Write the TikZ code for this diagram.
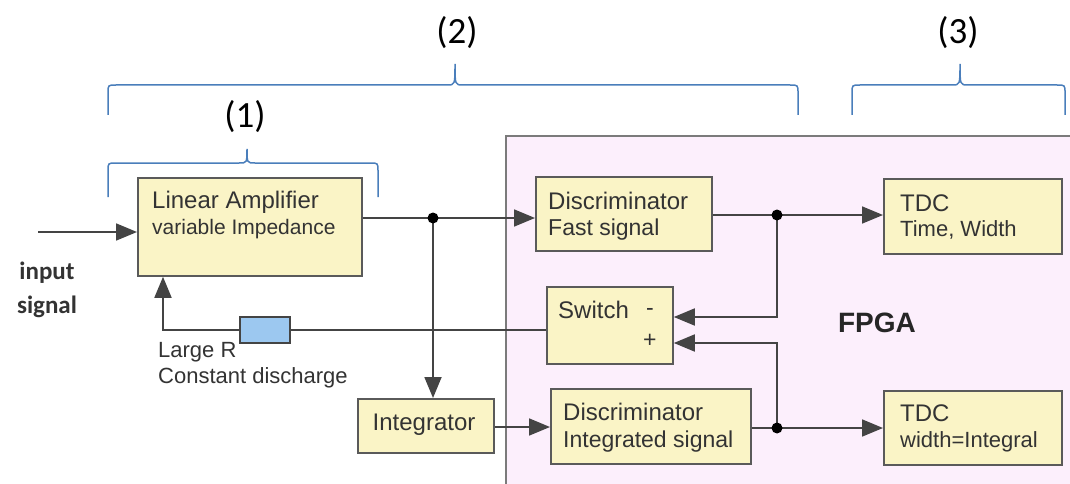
\documentclass[tikz,border=0pt]{standalone}
\usepackage{fontspec}
\setmainfont{Liberation Sans}
\newfontfamily\calib{Carlito}
\usetikzlibrary{arrows.meta}
\definecolor{boxfill}{HTML}{FAF4C6}
\definecolor{boxline}{HTML}{5A5A5A}
\definecolor{fpgafill}{HTML}{FCEFFC}
\definecolor{resfill}{HTML}{9CC8F0}
\definecolor{bracecol}{HTML}{4A7EBB}
\definecolor{txt}{HTML}{333333}
\definecolor{wire}{HTML}{444444}
\tikzset{
  blk/.style={draw=boxline, fill=boxfill, line width=1.8pt, anchor=north west, inner sep=0pt},
  tl/.style={anchor=west, inner sep=0pt, text=txt, font=\fontsize{23}{25}\selectfont},
  tlb/.style={anchor=west, inner sep=0pt, text=txt, font=\fontsize{24}{26}\selectfont},
  wr/.style={draw=wire, line width=1.8pt},
  arr/.style={wr, -{Triangle[length=21pt,width=17pt]}},
  dotc/.style={circle, fill=black, inner sep=0pt, minimum size=11pt},
  brc/.style={draw=bracecol, line width=1.5pt},
  lab/.style={font=\calib\fontsize{37}{39}\selectfont, text=black, inner sep=0pt}
}
\newcommand\mybrace[6]{%
  \draw[brc] (#1,#5) -- (#1,#4+8) .. controls (#1,#4) .. (#1+8,#4) -- (#3-8,#4)
    .. controls (#3,#4) .. (#3,#6) .. controls (#3,#4) .. (#3+8,#4) -- (#2-8,#4)
    .. controls (#2,#4) .. (#2,#4+8) -- (#2,#5);}
\begin{document}
\begin{tikzpicture}[x=1pt,y=-1pt]
\useasboundingbox (0,0) rectangle (1070,484);
\clip (0,0) rectangle (1070,484);
\fill[white] (0,0) rectangle (1070,484);
% FPGA region
\node[draw=boxline!80, fill=fpgafill, line width=1.8pt, anchor=north west, inner sep=0pt,
  minimum width=600pt, minimum height=400pt] (fpga) at (505,135) {};
\node[font=\bfseries\fontsize{28}{30}\selectfont, text=black!85] (fpgat) at (877,323) {FPGA};
% braces
\mybrace{108}{378}{247}{163}{197}{149}
\mybrace{108}{798}{455}{85}{115}{64}
\mybrace{852}{1065}{960}{85}{115}{64}
\node[lab] (l1) at (245,117) {(1)};
\node[lab] (l2) at (457,33) {(2)};
\node[lab] (l3) at (958,33) {(3)};
% blocks
\node[blk, minimum width=224pt, minimum height=98pt] (amp) at (137,177) {};
\node[tlb] (ampt1) at (152,202) {Linear Amplifier};
\node[tl, font=\fontsize{21}{23}\selectfont] (ampt2) at (152,229) {variable Impedance};
\node[blk, minimum width=176pt, minimum height=74pt] (dfast) at (535,176) {};
\node[tlb] (dft1) at (548,201) {Discriminator};
\node[tl] (dft2) at (548,230) {Fast signal};
\node[blk, minimum width=126pt, minimum height=77pt] (sw) at (546,286) {};
\node[tlb] (swt) at (558,310) {Switch};
\node[tl] (swm) at (646,312) {-};
\node[tl] (swp) at (643,341) {+};
\node[blk, minimum width=136pt, minimum height=54pt] (integ) at (357,398) {};
\node[tlb, anchor=center] (integt) at (424,425) {Integrator};
\node[blk, minimum width=200pt, minimum height=75pt] (dint) at (550,388) {};
\node[tlb] (dit1) at (563,412) {Discriminator};
\node[tl] (dit2) at (563,442) {Integrated signal};
\node[blk, minimum width=178pt, minimum height=75pt] (tdc1) at (883,178) {};
\node[tlb] (t1a) at (900,203) {TDC};
\node[tl, font=\fontsize{22}{24}\selectfont] (t1b) at (900,230) {Time, Width};
\node[blk, minimum width=178pt, minimum height=74pt] (tdc2) at (883,390) {};
\node[tlb] (t2a) at (900,413) {TDC};
\node[tl, font=\fontsize{22}{24}\selectfont] (t2b) at (900,442) {width=Integral};
\node[draw=wire, fill=resfill, line width=1.5pt, minimum width=50pt, minimum height=26pt, inner sep=0pt] (res) at (265,330) {};
% labels
\node[font=\calib\bfseries\fontsize{25}{34}\selectfont, text=txt, align=center, inner sep=0pt] (inp) at (47,290) {input\\signal};
\node[tl, font=\fontsize{22}{26}\selectfont, align=left, anchor=north west] (lr) at (158,342) {Large R\\Constant discharge};
% coordinates
\coordinate (in) at (38,232);
\coordinate (j1) at (433,218);
\coordinate (j2) at (777,215);
\coordinate (j3) at (777,428);
\coordinate (fb) at (163,330);
% wires
\draw[arr] (in) -- (in -| amp.west);
\draw[wr] (j1 -| amp.east) -- (j1);
\draw[arr] (j1) -- (j1 -| dfast.west);
\draw[arr] (j1) -- (j1 |- integ.north);
\draw[arr] (integ.east |- 0,427) -- (dint.west |- 0,427);
\draw[wr] (dfast.east |- j2) -- (j2);
\draw[arr] (j2) -- (j2 -| tdc1.west);
\draw[arr] (j2) -- (777,317) -- (sw.east |- 0,317);
\draw[wr] (dint.east |- j3) -- (j3);
\draw[arr] (j3) -- (j3 -| tdc2.west);
\draw[arr] (j3) -- (777,343) -- (sw.east |- 0,343);
\draw[wr] (sw.west |- res.east) -- (res.east);
\draw[arr] (res.west) -- (fb) -- (fb |- amp.south);
\node[dotc] at (j1) {};
\node[dotc] at (j2) {};
\node[dotc] at (j3) {};
\end{tikzpicture}
\end{document}
